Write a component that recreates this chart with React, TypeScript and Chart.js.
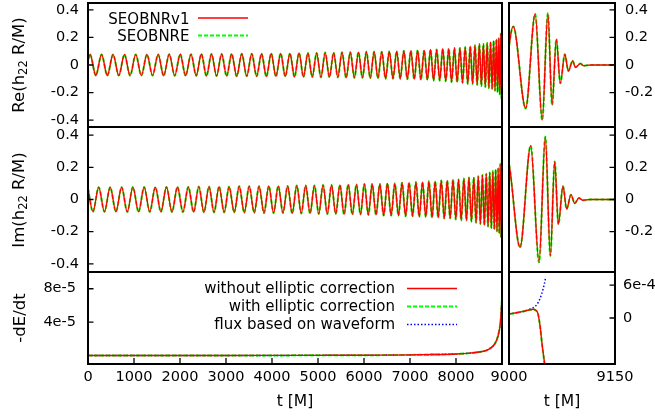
import React, { useEffect, useRef } from "react";
import { Chart, registerables } from "chart.js";

Chart.register(...registerables);

const FONT = "'DejaVu Sans', sans-serif";
const PAGE_W = 655;
const PAGE_H = 417;

// ---------------- data ----------------
// Re(h22 R/M): extrema of the waveform, [t, value]
const reSEOBNRv1: [number, number][] = [
  [0, 0.035], [45, 0.076], [170, -0.076], [295, 0.076], [420, -0.076], [545, 0.076], [669, -0.076], [793, 0.076],
  [915, -0.077], [1038, 0.077], [1160, -0.077], [1282, 0.077], [1403, -0.077], [1525, 0.077], [1645, -0.078],
  [1766, 0.078], [1885, -0.078], [2005, 0.078], [2122, -0.078], [2240, 0.078], [2352, -0.078], [2465, 0.08],
  [2575, -0.08], [2685, 0.08], [2795, -0.08], [2905, 0.08], [3014, -0.08], [3123, 0.08], [3233, -0.082],
  [3343, 0.082], [3451, -0.082], [3560, 0.082], [3666, -0.082], [3773, 0.082], [3878, -0.084], [3983, 0.084],
  [4085, -0.084], [4188, 0.084], [4289, -0.084], [4390, 0.084], [4489, -0.087], [4588, 0.087], [4684, -0.087],
  [4780, 0.087], [4875, -0.087], [4970, 0.087], [5063, -0.09], [5157, 0.09], [5248, -0.09], [5340, 0.09],
  [5431, -0.09], [5522, 0.093], [5612, -0.093], [5702, 0.093], [5791, -0.093], [5880, 0.093], [5966, -0.093],
  [6052, 0.096], [6136, -0.096], [6220, 0.096], [6303, -0.096], [6386, 0.096], [6468, -0.1], [6550, 0.1],
  [6630, -0.1], [6710, 0.1], [6788, -0.1], [6866, 0.104], [6942, -0.104], [7018, 0.104], [7092, -0.104],
  [7166, 0.108], [7237, -0.108], [7308, 0.108], [7377, -0.108], [7446, 0.113], [7513, -0.113], [7580, 0.113],
  [7646, -0.113], [7712, 0.118], [7777, -0.118], [7842, 0.118], [7904, -0.124], [7966, 0.124], [8025, -0.124],
  [8085, 0.124], [8142, -0.13], [8200, 0.13], [8255, -0.137], [8310, 0.137], [8361, -0.137], [8413, 0.144],
  [8460, -0.144], [8508, 0.152], [8552, -0.152], [8596, 0.152], [8637, -0.16], [8678, 0.16], [8715, -0.168],
  [8752, 0.168], [8785, -0.177], [8818, 0.177], [8848, -0.187], [8878, 0.187], [8904, -0.198], [8930, 0.198],
  [8951, -0.212], [8972, 0.228], [8989, -0.245], [9006, 0.28], [9023.6, -0.315], [9037, 0.37], [9047, -0.4],
  [9055, 0.376], [9061, -0.29], [9067, 0.187], [9072.6, -0.133], [9079, 0.078], [9084, -0.044], [9090, 0.03],
  [9094, -0.017], [9101, 0.01], [9106, -0.005], [9115, 0], [9150, 0],
];
// SEOBNRE is indistinguishable from SEOBNRv1 at this resolution
const reSEOBNRE: [number, number][] = reSEOBNRv1;

// Im(h22 R/M): extrema, [t, value]
const imSEOBNRv1: [number, number][] = [
  [0, 0.068], [107.5, -0.076], [232.5, 0.076], [357.5, -0.076], [482.5, 0.076], [607, -0.076], [731, 0.076],
  [854, -0.077], [976.5, 0.077], [1099, -0.077], [1221, 0.077], [1342.5, -0.077], [1464, 0.077], [1585, -0.077],
  [1705.5, 0.078], [1825.5, -0.078], [1945, 0.078], [2063.5, -0.078], [2181, 0.078], [2296, -0.078],
  [2408.5, 0.08], [2520, -0.08], [2630, 0.08], [2740, -0.08], [2850, 0.08], [2959.5, -0.08], [3068.5, 0.08],
  [3178, -0.08], [3288, 0.082], [3397, -0.082], [3505.5, 0.082], [3613, -0.082], [3719.5, 0.082],
  [3825.5, -0.084], [3930.5, 0.084], [4034, -0.084], [4136.5, 0.084], [4238.5, -0.084], [4339.5, 0.084],
  [4439.5, -0.087], [4538.5, 0.087], [4636, -0.087], [4732, 0.087], [4827.5, -0.087], [4922.5, 0.087],
  [5016.5, -0.09], [5110, 0.09], [5202.5, -0.09], [5294, 0.09], [5385.5, -0.09], [5476.5, 0.09],
  [5567, -0.093], [5657, 0.093], [5746.5, -0.093], [5835.5, 0.093], [5923, -0.093], [6009, 0.096],
  [6094, -0.096], [6178, 0.096], [6261.5, -0.096], [6344.5, 0.096], [6427, -0.1], [6509, 0.1], [6590, -0.1],
  [6670, 0.1], [6749, -0.1], [6827, 0.104], [6904, -0.104], [6980, 0.104], [7055, -0.104], [7129, 0.108],
  [7201.5, -0.108], [7272.5, 0.108], [7342.5, -0.108], [7411.5, 0.113], [7479.5, -0.113], [7546.5, 0.113],
  [7613, -0.113], [7679, 0.118], [7744.5, -0.118], [7809.5, 0.118], [7873, -0.118], [7935, 0.124],
  [7995.5, -0.124], [8055, 0.124], [8113.5, -0.13], [8171, 0.13], [8227.5, -0.13], [8282.5, 0.137],
  [8335.5, -0.137], [8387, 0.137], [8436.5, -0.144], [8484, 0.144], [8530, -0.152], [8574, 0.152],
  [8616.5, -0.16], [8657.5, 0.16], [8696.5, -0.168], [8733.5, 0.168], [8768.5, -0.177], [8801.5, 0.177],
  [8833, -0.187], [8863, 0.187], [8891, -0.198], [8917, 0.198], [8940.5, -0.212], [8961.5, 0.22],
  [8980.5, -0.236], [8997.5, 0.25], [9015.6, -0.297], [9030.7, 0.334], [9042.5, -0.39], [9051.4, 0.39],
  [9058.5, -0.35], [9064.7, 0.236], [9069.8, -0.154], [9076.4, 0.082], [9081.6, -0.06], [9087.7, 0.03],
  [9093, -0.024], [9099, 0.01], [9104, -0.005], [9115, 0], [9150, 0],
];
const imSEOBNRE: [number, number][] = imSEOBNRv1;

// -dE/dt: common inspiral part, then the three curves separate
const fluxInspiral: [number, number][] = [
  [0, 0.13e-6], [1000, 0.15e-6], [2000, 0.18e-6], [3000, 0.22e-6], [4000, 0.28e-6], [5000, 0.37e-6],
  [6000, 0.52e-6], [6500, 0.66e-6], [7000, 0.88e-6], [7500, 1.3e-6], [8000, 2.0e-6], [8300, 3.0e-6],
  [8500, 4.3e-6], [8650, 6.0e-6], [8750, 9.0e-6], [8830, 13e-6], [8880, 18e-6], [8920, 25e-6],
  [8950, 33e-6], [8970, 42e-6], [8985, 55e-6], [9000, 72e-6], [9010, 95e-6], [9020, 120e-6],
];
const fluxWithoutTail: [number, number][] = [
  [9028, 145e-6], [9034, 160e-6], [9038, 140e-6], [9041, 80e-6], [9044, -150e-6], [9047, -500e-6],
  [9050, -800e-6], [9053, -1200e-6],
];
const fluxWithTail: [number, number][] = [
  [9028, 146e-6], [9034, 158e-6], [9038, 138e-6], [9041, 75e-6], [9044, -160e-6], [9047, -510e-6],
  [9050, -810e-6], [9053, -1200e-6],
];
const fluxWaveformTail: [number, number][] = [
  [9030, 165e-6], [9037, 210e-6], [9042, 300e-6], [9046, 430e-6], [9050, 620e-6], [9052, 750e-6],
];

// ticks
const xTicksLeft = [0, 1000, 2000, 3000, 4000, 5000, 6000, 7000, 8000];
const xTicksRight = [9000, 9150];
const hTicksLeft = [-0.4, -0.2, 0, 0.2, 0.4];
const hTickLabelsLeft = ["-0.4", "-0.2", "0", "0.2", "0.4"];
const hTicksRight = [-0.2, 0, 0.2, 0.4];
const hTickLabelsRight = ["-0.2", "0", "0.2", "0.4"];
const fluxTicksLeft = [4e-5, 8e-5];
const fluxTickLabelsLeft = ["4e-5", "8e-5"];
const fluxTicksRight = [0, 6e-4];
const fluxTickLabelsRight = ["0", "6e-4"];

const waveLegend = ["SEOBNRv1", "SEOBNRE"];
const fluxLegend = ["without elliptic correction", "with elliptic correction", "flux based on waveform"];

// ---------------- styles ----------------
const RED = { color: "#ff0000", dash: [] as number[], width: 1.4 };
const GREEN = { color: "#00ff00", dash: [4, 2], width: 2 };
const BLUE = { color: "#0000ff", dash: [1.5, 2], width: 1.5 };

type Series = { data: [number, number][]; style: { color: string; dash: number[]; width: number } };
type PanelCfg = {
  id: string;
  box: { l: number; t: number; r: number; b: number };
  xMin: number; xMax: number; yMin: number; yMax: number;
  xTicks?: number[];
  yTicks: number[]; yLabels: string[]; ySide: "left" | "right"; yPad: number;
  series: Series[];
  legend?: any;
  yTitle?: { cx: number; cy: number; parts: { text: string; sub?: boolean }[] };
};

function drawVTitle(ctx: CanvasRenderingContext2D, t: NonNullable<PanelCfg["yTitle"]>) {
  const size = 16.5;
  const subSize = 11.5;
  ctx.save();
  ctx.translate(t.cx, t.cy);
  ctx.rotate(-Math.PI / 2);
  ctx.fillStyle = "#000";
  ctx.textBaseline = "middle";
  ctx.textAlign = "left";
  const widths = t.parts.map((p) => {
    ctx.font = `${p.sub ? subSize : size}px ${FONT}`;
    return ctx.measureText(p.text).width;
  });
  let x = -widths.reduce((a, b) => a + b, 0) / 2;
  t.parts.forEach((p, i) => {
    ctx.font = `${p.sub ? subSize : size}px ${FONT}`;
    ctx.fillText(p.text, x, p.sub ? 4.5 : 0);
    x += widths[i];
  });
  ctx.restore();
}

const decoPlugin = {
  id: "deco",
  afterDatasetsDraw(chart: any, _args: any, o: any) {
    const ctx: CanvasRenderingContext2D = chart.ctx;
    const a = chart.chartArea;
    const xs = chart.scales.x;
    const ys = chart.scales.y;
    ctx.save();
    ctx.setLineDash([]);
    ctx.strokeStyle = "#000";
    ctx.lineWidth = 1.3;
    ctx.beginPath();
    for (const v of o.yTicks || []) {
      const y = ys.getPixelForValue(v);
      if (o.ySide === "left") {
        ctx.moveTo(a.left, y);
        ctx.lineTo(a.left + 5.5, y);
      } else {
        ctx.moveTo(a.right, y);
        ctx.lineTo(a.right - 5.5, y);
      }
    }
    for (const v of o.xTicks || []) {
      const x = xs.getPixelForValue(v);
      ctx.moveTo(x, a.bottom);
      ctx.lineTo(x, a.bottom - 6);
    }
    ctx.stroke();
    ctx.lineWidth = 2;
    ctx.strokeRect(a.left, a.top, a.right - a.left, a.bottom - a.top);

    if (o.legend) {
      const L = o.legend;
      ctx.font = `15px ${FONT}`;
      ctx.textAlign = "right";
      ctx.textBaseline = "middle";
      ctx.fillStyle = "#000";
      L.items.forEach((it: any, i: number) => {
        const y = L.y0 + i * L.dy;
        ctx.fillText(it.text, L.textRight, y);
        ctx.beginPath();
        ctx.strokeStyle = it.style.color;
        ctx.lineWidth = it.style.width;
        ctx.setLineDash(it.style.dash);
        ctx.moveTo(L.x1, y + L.lineOffset);
        ctx.lineTo(L.x2, y + L.lineOffset);
        ctx.stroke();
      });
      ctx.setLineDash([]);
    }
    if (o.yTitle) drawVTitle(ctx, o.yTitle);
    ctx.restore();
  },
};

function buildConfig(p: PanelCfg): any {
  const hasX = !!p.xTicks;
  const x: any = {
    type: "linear",
    min: p.xMin,
    max: p.xMax,
    display: hasX,
    grid: { display: false, drawTicks: false },
    border: { display: false },
    ticks: {
      autoSkip: false,
      maxRotation: 0,
      minRotation: 0,
      padding: 5,
      color: "#000",
      font: { family: FONT, size: 14.5 },
      callback: (v: any) => String(v),
    },
    title: hasX
      ? { display: true, text: "t [M]", color: "#000", font: { family: FONT, size: 15.5 }, padding: { top: 0, bottom: 6 } }
      : { display: false },
    afterFit: (s: any) => {
      if (hasX) s.height = PAGE_H - p.box.b;
      s.paddingLeft = 0;
      s.paddingRight = 0;
    },
  };
  if (hasX) {
    x.afterBuildTicks = (s: any) => {
      s.ticks = (p.xTicks as number[]).map((v) => ({ value: v }));
    };
  }
  return {
    type: "line",
    data: {
      datasets: p.series.map((s) => ({
        data: s.data.map(([t, v]) => ({ x: t, y: v })),
        borderColor: s.style.color,
        borderWidth: s.style.width,
        borderDash: s.style.dash,
        pointRadius: 0,
        fill: false,
        cubicInterpolationMode: "monotone",
      })),
    },
    options: {
      animation: false,
      responsive: false,
      devicePixelRatio: 1,
      events: [],
      layout: {
        padding: {
          left: p.ySide === "left" ? 0 : p.box.l,
          right: p.ySide === "right" ? 0 : PAGE_W - p.box.r,
          top: p.box.t,
          bottom: hasX ? 0 : PAGE_H - p.box.b,
        },
      },
      plugins: {
        legend: { display: false },
        tooltip: { enabled: false },
        deco: {
          yTicks: p.yTicks,
          ySide: p.ySide,
          xTicks: p.xTicks,
          legend: p.legend,
          yTitle: p.yTitle,
        },
      },
      scales: {
        x,
        y: {
          type: "linear",
          position: p.ySide,
          min: p.yMin,
          max: p.yMax,
          grid: { display: false, drawTicks: false },
          border: { display: false },
          afterBuildTicks: (s: any) => {
            s.ticks = p.yTicks.map((v) => ({ value: v }));
          },
          ticks: {
            autoSkip: false,
            padding: p.yPad,
            color: "#000",
            font: { family: FONT, size: 14.5 },
            callback: (_v: any, i: number) => p.yLabels[i],
          },
          afterFit: (s: any) => {
            s.width = p.ySide === "left" ? p.box.l : PAGE_W - p.box.r;
            s.paddingTop = 0;
            s.paddingBottom = 0;
          },
        },
      },
    },
    plugins: [decoPlugin],
  };
}

const LEFT = { l: 88, r: 502 };
const RIGHT = { l: 509, r: 615 };
const ROW1 = { t: 3, b: 127 };
const ROW2 = { t: 127, b: 272 };
const ROW3 = { t: 272, b: 364 };

const panels: PanelCfg[] = [
  {
    id: "reL",
    box: { ...LEFT, ...ROW1 },
    xMin: 0, xMax: 9000, yMin: -0.45, yMax: 0.45,
    yTicks: hTicksLeft, yLabels: hTickLabelsLeft, ySide: "left", yPad: 9,
    series: [{ data: reSEOBNRv1, style: RED }, { data: reSEOBNRE, style: GREEN }],
    legend: {
      textRight: 189.5, x1: 198, x2: 248, y0: 20, dy: 17.5, lineOffset: -2,
      items: [{ text: waveLegend[0], style: RED }, { text: waveLegend[1], style: GREEN }],
    },
    yTitle: { cx: 20, cy: 65, parts: [{ text: "Re(h" }, { text: "22", sub: true }, { text: " R/M)" }] },
  },
  {
    id: "reR",
    box: { ...RIGHT, ...ROW1 },
    xMin: 9000, xMax: 9150, yMin: -0.45, yMax: 0.45,
    yTicks: hTicksRight, yLabels: hTickLabelsRight, ySide: "right", yPad: 10,
    series: [{ data: reSEOBNRv1, style: RED }, { data: reSEOBNRE, style: GREEN }],
  },
  {
    id: "imL",
    box: { ...LEFT, ...ROW2 },
    xMin: 0, xMax: 9000, yMin: -0.45, yMax: 0.45,
    yTicks: hTicksLeft, yLabels: hTickLabelsLeft, ySide: "left", yPad: 9,
    series: [{ data: imSEOBNRv1, style: RED }, { data: imSEOBNRE, style: GREEN }],
    yTitle: { cx: 20, cy: 200, parts: [{ text: "Im(h" }, { text: "22", sub: true }, { text: " R/M)" }] },
  },
  {
    id: "imR",
    box: { ...RIGHT, ...ROW2 },
    xMin: 9000, xMax: 9150, yMin: -0.45, yMax: 0.45,
    yTicks: hTicksRight, yLabels: hTickLabelsRight, ySide: "right", yPad: 10,
    series: [{ data: imSEOBNRv1, style: RED }, { data: imSEOBNRE, style: GREEN }],
  },
  {
    id: "fL",
    box: { ...LEFT, ...ROW3 },
    xMin: 0, xMax: 9000, yMin: -1e-5, yMax: 1e-4,
    xTicks: xTicksLeft,
    yTicks: fluxTicksLeft, yLabels: fluxTickLabelsLeft, ySide: "left", yPad: 12,
    series: [
      { data: [...fluxInspiral, ...fluxWithoutTail], style: RED },
      { data: [...fluxInspiral, ...fluxWithTail], style: GREEN },
      { data: [...fluxInspiral, ...fluxWaveformTail], style: BLUE },
    ],
    legend: {
      textRight: 395, x1: 407, x2: 457, y0: 289.5, dy: 18, lineOffset: -1,
      items: [
        { text: fluxLegend[0], style: RED },
        { text: fluxLegend[1], style: GREEN },
        { text: fluxLegend[2], style: BLUE },
      ],
    },
    yTitle: { cx: 21, cy: 318, parts: [{ text: "-dE/dt" }] },
  },
  {
    id: "fR",
    box: { ...RIGHT, ...ROW3 },
    xMin: 9000, xMax: 9150, yMin: -8.4e-4, yMax: 8.4e-4,
    xTicks: xTicksRight,
    yTicks: fluxTicksRight, yLabels: fluxTickLabelsRight, ySide: "right", yPad: 8,
    series: [
      { data: [...fluxInspiral, ...fluxWithoutTail], style: RED },
      { data: [...fluxInspiral, ...fluxWithTail], style: GREEN },
      { data: [...fluxInspiral, ...fluxWaveformTail], style: BLUE },
    ],
  },
];

function Panel({ cfg }: { cfg: PanelCfg }) {
  const ref = useRef<HTMLCanvasElement>(null);
  useEffect(() => {
    if (!ref.current) return;
    const chart = new Chart(ref.current, buildConfig(cfg));
    return () => chart.destroy();
  }, [cfg]);
  return (
    <canvas
      ref={ref}
      width={PAGE_W}
      height={PAGE_H}
      style={{ position: "absolute", left: 0, top: 0, width: PAGE_W, height: PAGE_H }}
    />
  );
}

export default function App() {
  return (
    <div style={{ position: "absolute", left: 0, top: 0, width: PAGE_W, height: PAGE_H, background: "#fff" }}>
      {panels.map((p) => (
        <Panel key={p.id} cfg={p} />
      ))}
    </div>
  );
}
